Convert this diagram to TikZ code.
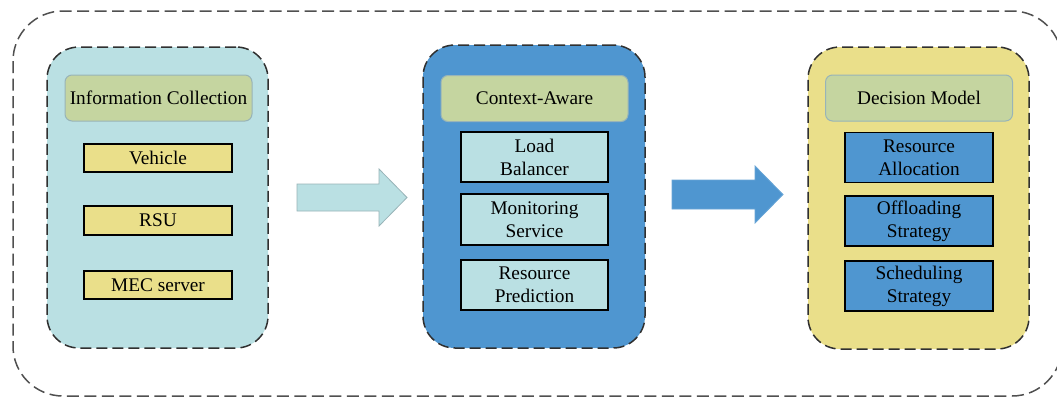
\documentclass[tikz,border=0pt]{standalone}
\usepackage{fontspec}
\setmainfont{Liberation Serif}
\definecolor{paleblue}{HTML}{BAE0E3}
\definecolor{midblue}{HTML}{4F96D0}
\definecolor{sand}{HTML}{EADF8A}
\definecolor{sage}{HTML}{C5D5A0}
\definecolor{sageedge}{HTML}{98B4B8}
\definecolor{dashgray}{HTML}{303030}
\definecolor{framegray}{HTML}{505050}
\begin{document}
\begin{tikzpicture}[x=1pt,y=-1pt,
  txt/.style={font=\fontsize{19.3}{23}\selectfont, align=center, text=black},
  panel/.style={draw=dashgray, line width=1.5pt, dash pattern=on 11pt off 5pt,
    rounded corners=32pt, inner sep=0pt},
  header/.style={txt, draw=sageedge, line width=1pt, fill=sage,
    rounded corners=7pt, minimum width=187pt, minimum height=46pt, inner sep=0pt},
  item/.style={txt, draw=black, line width=1.6pt, minimum width=148pt, inner sep=0pt},
  shortitem/.style={item, fill=sand, minimum height=28pt},
  tallitem/.style={item, minimum height=50pt},
  flow/.style={line width=0.8pt, line join=miter}
]
\clip (0,0) rectangle (1057,397);
\fill[white] (0,0) rectangle (1057,397);

% enclosing frame
\draw[draw=framegray, line width=1.5pt, dash pattern=on 12pt off 5.5pt, rounded corners=50pt]
  (13,11) rectangle (1062,396);

% stage panels
\node[panel, fill=paleblue, minimum width=221pt, minimum height=301pt] (collect) at (157.5,197.5) {};
\node[panel, fill=midblue, minimum width=222pt, minimum height=303pt] (aware) at (534,196.5) {};
\node[panel, fill=sand, minimum width=221pt, minimum height=302pt] (decide) at (918.5,198) {};

% panel headings
\node[header] (h1) at (158.5,98) {Information Collection};
\node[header] (h2) at (534.5,98.5) {Context-Aware};
\node[header] (h3) at (919,98) {Decision Model};

% information sources
\node[shortitem] (veh) at (158,158) {Vehicle};
\node[shortitem, minimum height=29pt] (rsu) at (158,220.5) {RSU};
\node[shortitem] (mec) at (158,285) {MEC server};

% context-aware services
\node[tallitem, fill=paleblue, minimum width=147pt] (lb) at (534.5,157) {Load\\Balancer};
\node[tallitem, fill=paleblue, minimum width=147pt, minimum height=51pt] (ms) at (534.5,219.5) {Monitoring\\Service};
\node[tallitem, fill=paleblue, minimum width=147pt] (rp) at (534.5,285) {Resource\\Prediction};

% decision components
\node[tallitem, fill=midblue] (ra) at (919,157.5) {Resource\\Allocation};
\node[tallitem, fill=midblue] (os) at (919,221) {Offloading\\Strategy};
\node[tallitem, fill=midblue] (ss) at (919,286) {Scheduling\\Strategy};

% block arrows between stages
\draw[flow, draw=sageedge, fill=paleblue]
  (297,184) -- (379,184) -- (379,169) -- (407,197.5) -- (379,226) -- (379,211) -- (297,211) -- cycle;
\draw[flow, draw=midblue!85!white, fill=midblue]
  (672,180) -- (755,180) -- (755,166) -- (783,194.5) -- (755,223) -- (755,209) -- (672,209) -- cycle;
\end{tikzpicture}
\end{document}
